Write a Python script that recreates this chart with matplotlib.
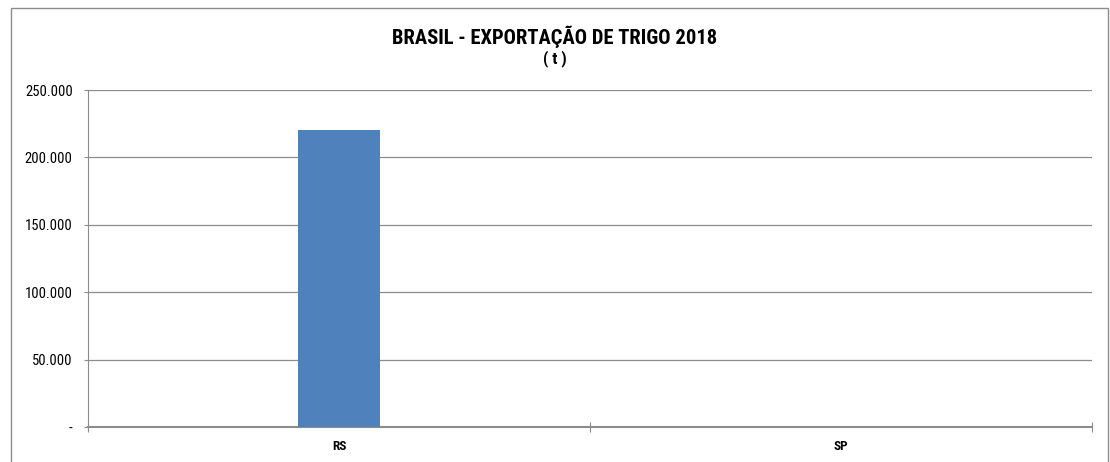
import matplotlib
matplotlib.use("Agg")
import matplotlib.pyplot as plt
from matplotlib.patches import Rectangle
from matplotlib.ticker import FuncFormatter

categories = ["RS", "SP"]
values = [220500, 0]
yticks = [0, 50000, 100000, 150000, 200000, 250000]
title = "BRASIL - EXPORTAÇÃO DE TRIGO 2018"
subtitle = "( t )"

FONT = ["Roboto Condensed", "DejaVu Sans"]
W, H = 1110, 462
fig = plt.figure(figsize=(W/100, H/100), dpi=100)
fig.patch.set_facecolor("white")

# outer chart border
fig.add_artist(Rectangle((11/W, -0.05), (1108-11)/W, 1 - 8/H + 0.05,
                         transform=fig.transFigure, fill=False,
                         edgecolor="#8c8c8c", linewidth=1.0))

ax = fig.add_axes([88/W, 35/H, (1092-88)/W, (427-90)/H])
x = list(range(len(categories)))
ax.bar(x, values, width=0.165, color="#4f81bd", zorder=3)
ax.set_xlim(-0.5, len(categories) - 0.5)
ax.set_ylim(0, 250000)

ax.set_yticks(yticks)
def fmt(v, pos):
    if v == 0:
        return "-"
    return f"{int(v):,}".replace(",", ".")
ax.yaxis.set_major_formatter(FuncFormatter(fmt))
ax.yaxis.grid(True, color="#8c8c8c", linewidth=0.9, zorder=0)

ax.set_xticks([i - 0.5 for i in range(len(categories) + 1)])
ax.set_xticklabels([])
ax.set_xticks(x, minor=True)
ax.set_xticklabels(categories, minor=True, fontsize=9.5, fontweight="bold", family=FONT)
ax.tick_params(axis="x", which="minor", length=0, pad=9)
ax.tick_params(axis="x", which="major", direction="inout", length=7, color="#8c8c8c")
ax.tick_params(axis="y", direction="out", length=3, color="#8c8c8c", labelsize=10.5, pad=8)
for lbl in ax.get_yticklabels():
    lbl.set_family(FONT)

for s in ["top", "right"]:
    ax.spines[s].set_visible(False)
ax.spines["left"].set_color("#8c8c8c")
ax.spines["bottom"].set_color("#8c8c8c")
ax.spines["bottom"].set_linewidth(1.5)

fig.text(0.5, 1 - 37/H, title, ha="center", va="center",
         fontsize=14.8, fontweight="bold", family=FONT)
fig.text(0.5, 1 - 59/H, subtitle, ha="center", va="center",
         fontsize=12, fontweight="bold", family=FONT)

fig.savefig("out.png", dpi=100)
